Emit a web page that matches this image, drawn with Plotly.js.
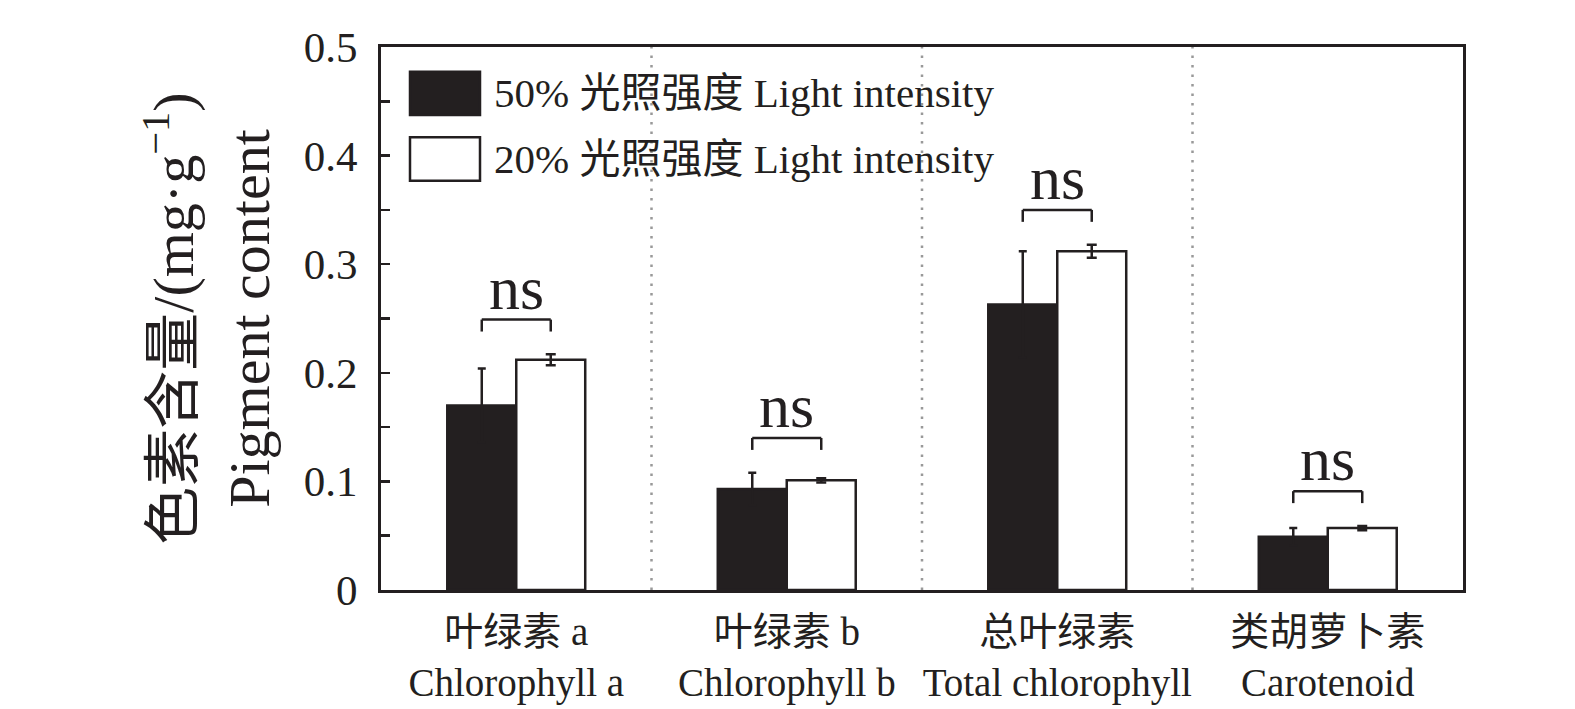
<!DOCTYPE html>
<html>
<head>
<meta charset="utf-8">
<script src="https://cdn.plot.ly/plotly-3.0.1.min.js"></script>
<style>html,body{margin:0;padding:0;background:#fff;}</style>
</head>
<body>
<div id="chart" style="width:1575px;height:709px;"></div>
<script>
// ---- data ----
var categories = ["叶绿素 a<br>Chlorophyll a", "叶绿素 b<br>Chlorophyll b", "总叶绿素<br>Total chlorophyll", "类胡萝卜素<br>Carotenoid"];
var seriesNames = ["50% 光照强度 Light intensity", "20% 光照强度 Light intensity"];
var light50 = [0.170, 0.093, 0.263, 0.049];
var light50Err = [0.034, 0.015, 0.049, 0.008];
var light20 = [0.212, 0.101, 0.312, 0.057];
var light20Err = [0.005, 0.002, 0.006, 0.002];
var sigLabels = ["ns", "ns", "ns", "ns"];
var yTickVals = [0, 0.1, 0.2, 0.3, 0.4, 0.5];
var yTickText = ["0", "0.1", "0.2", "0.3", "0.4", "0.5"];

var FONT = "'Times New Roman', 'Liberation Serif', 'Noto Sans CJK SC', serif";
var BLACK = "#231f20";
var bargap = 0.49;
var half = (1 - bargap) / 4;

var traces = [
  {
    type: "bar", name: seriesNames[0], x: categories, y: light50,
    marker: {color: BLACK, line: {color: BLACK, width: 2.5}},
    error_y: {type: "data", array: light50Err, visible: true, color: BLACK, thickness: 2.5, width: 4}
  },
  {
    type: "bar", name: seriesNames[1], x: categories, y: light20,
    marker: {color: "#ffffff", line: {color: BLACK, width: 2.5}},
    error_y: {type: "data", array: light20Err, visible: true, color: BLACK, thickness: 2.5, width: 5}
  }
];

var shapes = [];
var annotations = [];
// category separators
for (var i = 0; i < categories.length - 1; i++) {
  shapes.push({type: "line", xref: "x", yref: "y domain", x0: i + 0.5, x1: i + 0.5, y0: 0, y1: 1,
    line: {color: "#999999", width: 2.5, dash: "2.5px,7px"}, layer: "below"});
}
// significance brackets
for (var i = 0; i < categories.length; i++) {
  var peak = Math.max(light50[i] + light50Err[i], light20[i] + light20Err[i]);
  var yb = peak + 0.021, yt = yb + 0.011;
  var xl = i - half, xr = i + half;
  shapes.push({type: "line", xref: "x", yref: "y", x0: xl, x1: xr, y0: yt, y1: yt, line: {color: BLACK, width: 2.5}});
  shapes.push({type: "line", xref: "x", yref: "y", x0: xl, x1: xl, y0: yb, y1: yt, line: {color: BLACK, width: 2.5}});
  shapes.push({type: "line", xref: "x", yref: "y", x0: xr, x1: xr, y0: yb, y1: yt, line: {color: BLACK, width: 2.5}});
  annotations.push({xref: "x", yref: "y", x: i, y: yt, text: sigLabels[i], showarrow: false,
    yanchor: "bottom", yshift: -4, font: {family: FONT, size: 62, color: BLACK}});
}
// legend (drawn manually to match large swatches)
var legRows = [[0.9545, 0.8748], [0.834, 0.7538]];
var legFill = [BLACK, "#ffffff"];
for (var k = 0; k < 2; k++) {
  shapes.push({type: "rect", xref: "x domain", yref: "y domain", x0: 0.0268, x1: 0.0915,
    y0: legRows[k][1], y1: legRows[k][0], fillcolor: legFill[k], line: {color: BLACK, width: 2.5}});
  annotations.push({xref: "x domain", yref: "y domain", x: 0.1026, y: (legRows[k][0] + legRows[k][1]) / 2,
    xanchor: "left", yanchor: "middle", showarrow: false, text: seriesNames[k],
    font: {family: FONT, size: 41, color: BLACK}});
}

var layout = {
  width: 1575, height: 709,
  margin: {l: 381, r: 112, t: 47, b: 119},
  paper_bgcolor: "#ffffff", plot_bgcolor: "#ffffff",
  showlegend: false,
  barmode: "group", bargap: bargap, bargroupgap: 0,
  font: {family: FONT, color: BLACK},
  xaxis: {
    type: "category", showgrid: false, zeroline: false,
    showline: true, linecolor: BLACK, linewidth: 3, mirror: true,
    ticks: "", tickfont: {family: FONT, size: 39, color: BLACK},
    ticklabelstandoff: 5
  },
  yaxis: {
    range: [0, 0.5], showgrid: false, zeroline: false,
    showline: true, linecolor: BLACK, linewidth: 3, mirror: true,
    tickmode: "array", tickvals: yTickVals, ticktext: yTickText,
    ticks: "inside", ticklen: 9, tickwidth: 2.5, tickcolor: BLACK,
    minor: {dtick: 0.05, ticks: "inside", ticklen: 9, tickwidth: 2.5, tickcolor: BLACK},
    tickfont: {family: FONT, size: 43, color: BLACK},
    ticklabelstandoff: 12,
    title: {text: "色素含量/(mg·g<sup>−1</sup>)<br>Pigment content", font: {family: FONT, size: 58, color: BLACK}, standoff: 16}
  },
  shapes: shapes,
  annotations: annotations
};

Plotly.newPlot("chart", traces, layout, {staticPlot: true, displayModeBar: false});
</script>
</body>
</html>
